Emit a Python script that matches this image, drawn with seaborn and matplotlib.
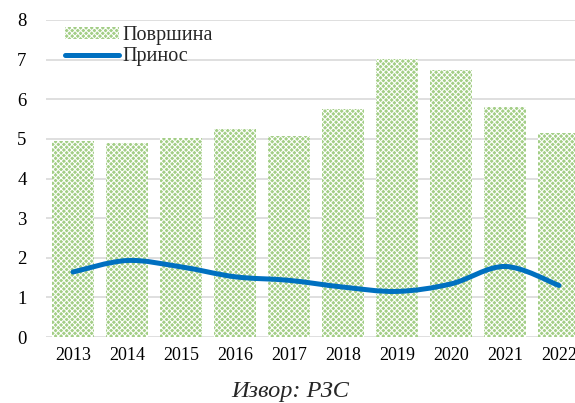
import numpy as np
import pandas as pd
import matplotlib
matplotlib.use("Agg")
import matplotlib.pyplot as plt
from matplotlib.path import Path
from matplotlib.patches import PathPatch, Patch
from matplotlib.lines import Line2D
import seaborn as sns

# === Data ===
years = ["2013", "2014", "2015", "2016", "2017", "2018", "2019", "2020", "2021", "2022"]
area = [4.95, 4.90, 5.03, 5.25, 5.08, 5.76, 7.01, 6.74, 5.80, 5.14]
yield_ = [1.64, 1.93, 1.77, 1.52, 1.43, 1.26, 1.15, 1.34, 1.78, 1.30]
bar_label = "Површина"
line_label = "Принос"
source = "Извор: РЗС"

df = pd.DataFrame({"year": years, "area": area, "yield": yield_})

sns.set_theme(style="white")
plt.rcParams["font.family"] = ["Liberation Serif", "DejaVu Serif"]
plt.rcParams["hatch.linewidth"] = 0.75

bar_color = "#a3ce86"
line_color = "#0070c0"

fig = plt.figure(figsize=(5.75, 4.03), dpi=100)
ax = fig.add_axes([46 / 575, 66 / 403, 540 / 575, 317 / 403])

sns.barplot(data=df, x="year", y="area", color=bar_color, width=0.78,
            saturation=1, ax=ax, zorder=2)
for p in ax.patches:
    p.set_hatch("xxxxxx")
    p.set_edgecolor("white")
    p.set_linewidth(0)

# smoothed line (Catmull-Rom -> cubic Bezier, like Excel's smoothed line)
x = np.arange(len(years), dtype=float)
y = np.array(yield_)
verts = [(x[0], y[0])]
codes = [Path.MOVETO]
for i in range(len(x) - 1):
    p0 = np.array([x[max(i - 1, 0)], y[max(i - 1, 0)]])
    p1 = np.array([x[i], y[i]])
    p2 = np.array([x[i + 1], y[i + 1]])
    p3 = np.array([x[min(i + 2, len(x) - 1)], y[min(i + 2, len(x) - 1)]])
    c1 = p1 + (p2 - p0) / 6
    c2 = p2 - (p3 - p1) / 6
    verts += [tuple(c1), tuple(c2), tuple(p2)]
    codes += [Path.CURVE4] * 3
ax.add_patch(PathPatch(Path(verts, codes), fill=False, edgecolor=line_color,
                       lw=3.6, capstyle="round", zorder=3))

ax.set_ylim(0, 8)
ax.set_yticks(range(0, 9))
ax.set_xlim(-0.5, len(years) - 0.5)
ax.grid(axis="y", color="#d9d9d9", lw=1.2, zorder=0)
ax.set_axisbelow(True)
for s in ax.spines.values():
    s.set_visible(False)
ax.set_xlabel("")
ax.set_ylabel("")
ax.tick_params(axis="y", labelsize=13.5, pad=14, length=0)
ax.tick_params(axis="x", labelsize=13, pad=7, length=0)
for t in ax.get_yticklabels() + ax.get_xticklabels():
    t.set_color("#000000")

handles = [Patch(facecolor=bar_color, edgecolor="white", hatch="xxxxxx", lw=0),
           Line2D([0], [0], color=line_color, lw=3.6, solid_capstyle="round")]
ax.legend(handles, [bar_label, line_label], loc="upper left",
          bbox_to_anchor=(0.02, 1.005), frameon=False, fontsize=14.5,
          handlelength=2.7, handleheight=0.55, handletextpad=0.15,
          labelspacing=0.1, borderaxespad=0)

fig.text(290 / 575, 1 - 392 / 403, source, ha="center", va="center",
         fontsize=17.5, style="italic")

fig.savefig("out.png", dpi=100)
